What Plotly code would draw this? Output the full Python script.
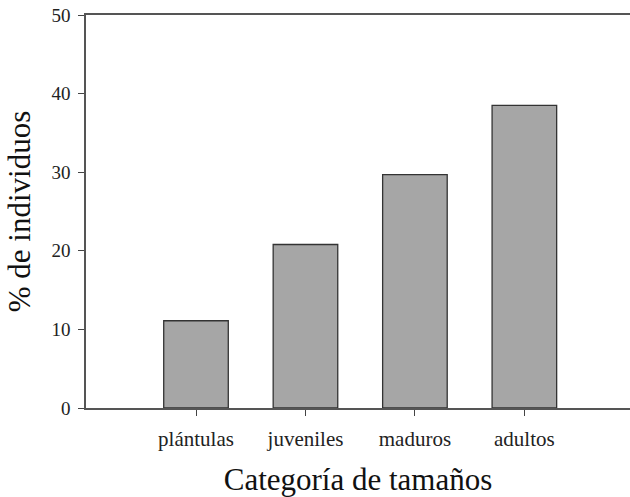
import plotly.graph_objects as go

categories = ["plántulas", "juveniles", "maduros", "adultos"]
values = [11.1, 20.8, 29.7, 38.5]
y_ticks = [0, 10, 20, 30, 40, 50]

fig = go.Figure()
fig.add_trace(go.Bar(
    x=list(range(len(categories))),
    y=values,
    width=0.59,
    marker=dict(color="#a6a6a6", line=dict(color="#333333", width=1.3)),
))

font_family = "Liberation Serif"
fig.update_layout(
    width=630, height=497,
    margin=dict(l=86, r=0, t=15, b=89, autoexpand=False),
    plot_bgcolor="white", paper_bgcolor="white",
    showlegend=False,
    font=dict(family=font_family, color="#222222"),
)
fig.update_xaxes(
    range=[-1.005, 3.965],
    tickmode="array",
    tickvals=list(range(len(categories))),
    ticktext=categories,
    ticks="outside", ticklen=6, tickwidth=1, tickcolor="#444444",
    showline=True, linecolor="#555555", linewidth=1.5, mirror=True,
    showgrid=False, zeroline=False, automargin=False,
    ticklabelstandoff=5,
    tickfont=dict(size=21, family=font_family, color="#222222"),
    title=dict(text="Categoría de tamaños", font=dict(size=31, family=font_family, color="#111111"), standoff=22),
)
fig.update_yaxes(
    range=[0, 50],
    tickmode="array",
    tickvals=y_ticks,
    ticks="outside", ticklen=6, tickwidth=1, tickcolor="#444444",
    showline=True, linecolor="#555555", linewidth=1.5,
    showgrid=False, zeroline=False, automargin=False,
    ticklabelstandoff=4,
    tickfont=dict(size=19, family=font_family, color="#222222"),
    title=dict(text="% de individuos", font=dict(size=31, family=font_family, color="#111111"), standoff=12),
)

fig.write_html(
    "out.html",
    config={"displayModeBar": False},
    post_script="document.body.style.margin='0';document.body.style.overflow='hidden';",
)
